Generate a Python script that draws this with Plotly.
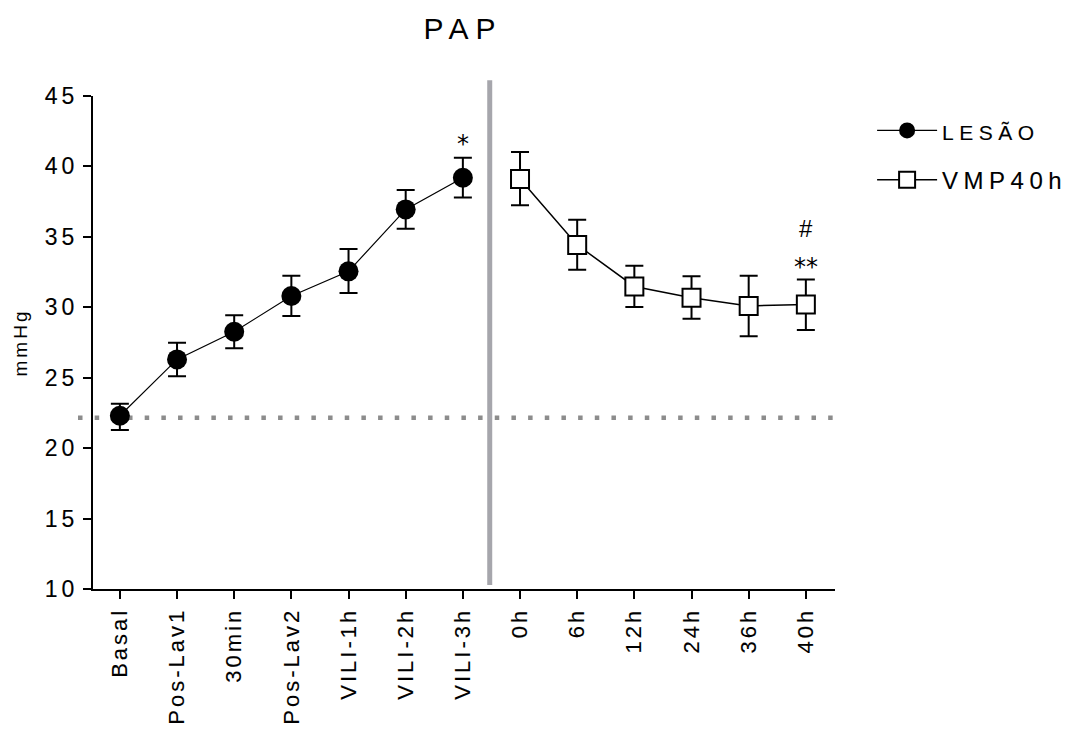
import plotly.graph_objects as go

# ---------------- data ----------------
categories = ["Basal", "Pos-Lav1", "30min", "Pos-Lav2", "VILI-1h", "VILI-2h", "VILI-3h",
              "0h", "6h", "12h", "24h", "36h", "40h"]

lesao_cats = ["Basal", "Pos-Lav1", "30min", "Pos-Lav2", "VILI-1h", "VILI-2h", "VILI-3h"]
lesao_mean = [22.3, 26.3, 28.26, 30.8, 32.55, 36.95, 39.2]
lesao_upper = [23.16, 27.48, 29.43, 32.24, 34.14, 38.33, 40.62]
lesao_lower = [21.29, 25.1, 27.1, 29.38, 31.02, 35.57, 37.79]

vmp_cats = ["0h", "6h", "12h", "24h", "36h", "40h"]
vmp_mean = [39.1, 34.43, 31.48, 30.67, 30.1, 30.19]
vmp_upper = [41.02, 36.21, 32.95, 32.21, 32.24, 31.98]
vmp_lower = [37.24, 32.67, 30.02, 29.19, 27.95, 28.38]

baseline = 22.16
divider_pos = 6.47          # category position of the vertical separator
y_ticks = [10, 15, 20, 25, 30, 35, 40, 45]
y_range = [10, 45]
x_range = [-0.47, 12.51]

sig_labels = ["*", "#", "**"]
sig_cats = ["VILI-3h", "40h", "40h"]
sig_y = [41.6, 35.6, 32.87]
sig_fonts = ["DejaVu Sans", "Liberation Sans", "DejaVu Sans"]

# ---------------- figure ----------------
fig = go.Figure()

fig.add_trace(go.Scatter(
    x=lesao_cats, y=lesao_mean, mode="lines+markers",
    name="<span style='font-size:21px'>LESÃO</span>",
    legendgroup="a",
    line=dict(color="black", width=1.2),
    marker=dict(symbol="circle", size=20, color="black"),
    error_y=dict(type="data", symmetric=False,
                 array=[u - m for u, m in zip(lesao_upper, lesao_mean)],
                 arrayminus=[m - l for m, l in zip(lesao_mean, lesao_lower)],
                 color="black", thickness=2, width=9),
))

fig.add_trace(go.Scatter(
    x=vmp_cats, y=vmp_mean, mode="lines+markers", name="VMP40h",
    legendgroup="b",
    line=dict(color="black", width=1.5),
    marker=dict(symbol="square", size=18, color="white", line=dict(color="black", width=2)),
    error_y=dict(type="data", symmetric=False,
                 array=[u - m for u, m in zip(vmp_upper, vmp_mean)],
                 arrayminus=[m - l for m, l in zip(vmp_mean, vmp_lower)],
                 color="black", thickness=2, width=9),
))

span = x_range[1] - x_range[0]
div_x = (divider_pos - x_range[0]) / span
base_y = (baseline - y_range[0]) / (y_range[1] - y_range[0])

# grey vertical separator
fig.add_shape(type="line", xref="paper", yref="paper", x0=div_x, x1=div_x,
              y0=0.008, y1=1.032, line=dict(color="#a6a6ac", width=5), layer="below")
# dotted baseline
fig.add_shape(type="line", xref="paper", yref="paper", x0=-0.0202, x1=1.0,
              y0=base_y, y1=base_y, line=dict(color="#8c8c8c", width=4.5, dash="4.5px,12.17px"),
              layer="below")

for lab, c, yv, fam in zip(sig_labels, sig_cats, sig_y, sig_fonts):
    fig.add_annotation(x=c, y=yv, text=lab, showarrow=False,
                       font=dict(size=24, color="black", family=fam))

fig.update_layout(
    width=1077, height=731,
    margin=dict(l=93, r=242, t=96, b=142),
    paper_bgcolor="white", plot_bgcolor="white",
    font=dict(family="Liberation Sans, Arial, sans-serif", color="black"),
    title=dict(text="PAP", x=(463 - 93) / 742, xref="paper", xanchor="center",
               y=1 - 28 / 731, yanchor="middle", font=dict(size=30, color="black")),
    showlegend=True,
    legend=dict(x=1.05, y=0.975, xanchor="left", yanchor="top",
                font=dict(size=24, color="black"), tracegroupgap=15,
                bgcolor="rgba(0,0,0,0)", itemsizing="trace", itemwidth=60),
    xaxis=dict(type="category", categoryorder="array", categoryarray=categories,
               range=x_range, showgrid=False, zeroline=False,
               showline=True, linecolor="black", linewidth=2,
               ticks="outside", ticklen=8, tickwidth=2, tickcolor="black",
               tickangle=-90, tickfont=dict(size=22, color="black")),
    yaxis=dict(range=y_range, tickvals=y_ticks, showgrid=False, zeroline=False,
               showline=True, linecolor="black", linewidth=2,
               ticks="outside", ticklen=8, tickwidth=2, tickcolor="black",
               tickfont=dict(size=23, color="black"),
               title=dict(text="mmHg", font=dict(size=19, color="black"), standoff=20)),
)

post = """
var gd = document.getElementById('{plot_id}');
function sp(sel, v, sw){
  gd.querySelectorAll(sel).forEach(function(t){
    t.style.letterSpacing = v;
    t.setAttribute('letter-spacing', v);
    if (sw) { t.style.stroke = 'black'; t.style.strokeWidth = sw; }
  });
}
function applyAll(){
  sp('.xtick text', '3px', '0.12px');
  sp('.ytick text', '4px', '0.12px');
  sp('.gtitle', '7px', null);
  sp('.g-ytitle text', '3px', null);
  sp('.legendtext', '5.5px', '0.1px');
  gd.querySelectorAll('.legend [clip-path]').forEach(function(e){ e.removeAttribute('clip-path'); });
}
applyAll();
gd.on('plotly_afterplot', applyAll);
setTimeout(applyAll, 50);
setTimeout(applyAll, 300);
"""

fig.write_html("out.html", post_script=post)
